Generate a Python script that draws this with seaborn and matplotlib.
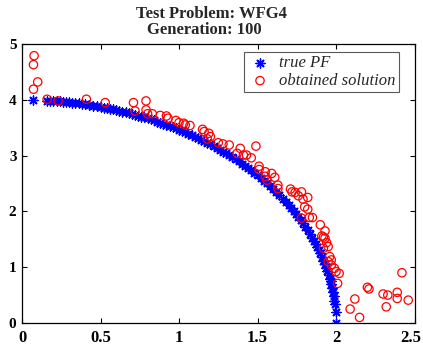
import matplotlib
matplotlib.use("Agg")
import matplotlib.pyplot as plt
import matplotlib.transforms as mtransforms
import seaborn as sns
import pandas as pd

# true Pareto front
pf_x = [0.07, 0.16, 0.18, 0.20, 0.22, 0.24, 0.26, 0.28, 0.30, 0.32, 0.34, 0.36,
        0.38, 0.40, 0.425, 0.45, 0.475, 0.50, 0.52, 0.54, 0.56, 0.58, 0.60,
        0.62, 0.64, 0.66, 0.68, 0.70, 0.72, 0.74, 0.76, 0.78, 0.80, 0.82, 0.84,
        0.86, 0.88, 0.90, 0.92, 0.94, 0.96, 0.98, 1.00, 1.02, 1.04, 1.06, 1.08,
        1.10, 1.12, 1.14, 1.16, 1.18, 1.20, 1.22, 1.24, 1.26, 1.28, 1.30, 1.32,
        1.34, 1.36, 1.38, 1.40, 1.42, 1.44, 1.46, 1.48, 1.50, 1.52, 1.54, 1.56,
        1.58, 1.60, 1.62, 1.64, 1.66, 1.68, 1.70, 1.715, 1.73, 1.745, 1.76,
        1.775, 1.79, 1.805, 1.82, 1.835, 1.85, 1.86, 1.87, 1.88, 1.89, 1.90,
        1.91, 1.92, 1.93, 1.938, 1.945, 1.953, 1.96, 1.965, 1.97, 1.975, 1.98,
        1.985, 1.99, 1.993, 2.00, 2.00]
pf_y = [3.998, 3.987, 3.984, 3.980, 3.976, 3.971, 3.966, 3.961, 3.955, 3.949,
        3.942, 3.935, 3.927, 3.919, 3.909, 3.897, 3.886, 3.873, 3.862, 3.851,
        3.840, 3.828, 3.816, 3.803, 3.790, 3.776, 3.762, 3.747, 3.732, 3.716,
        3.700, 3.683, 3.666, 3.648, 3.630, 3.611, 3.592, 3.572, 3.552, 3.531,
        3.509, 3.487, 3.464, 3.441, 3.417, 3.392, 3.367, 3.341, 3.314, 3.286,
        3.258, 3.230, 3.200, 3.170, 3.138, 3.106, 3.073, 3.040, 3.005, 2.969,
        2.933, 2.895, 2.857, 2.817, 2.776, 2.734, 2.690, 2.646, 2.600, 2.552,
        2.503, 2.452, 2.400, 2.346, 2.289, 2.231, 2.170, 2.107, 2.058, 2.007,
        1.954, 1.900, 1.843, 1.784, 1.723, 1.658, 1.591, 1.520, 1.470, 1.419,
        1.365, 1.308, 1.249, 1.186, 1.120, 1.049, 0.988, 0.932, 0.862, 0.796,
        0.745, 0.690, 0.630, 0.564, 0.489, 0.400, 0.334, 0.20, 0.00]

# obtained solution
sol_x = [0.077, 0.073, 0.10, 0.073, 0.16, 0.23, 0.41, 0.53, 0.71, 0.79, 0.72,
         0.79, 0.80, 0.83, 0.88, 0.92, 0.93, 0.98, 1.00, 1.03, 1.04, 1.07, 1.15,
         1.16, 1.19, 1.20, 1.18, 1.25, 1.28, 1.32, 1.39, 1.49, 1.37, 1.41, 1.43,
         1.46, 1.51, 1.51, 1.55, 1.59, 1.55, 1.61, 1.56, 1.63, 1.63, 1.71, 1.72,
         1.78, 1.74, 1.76, 1.79, 1.82, 1.80, 1.82, 1.85, 1.83, 1.78, 1.90, 1.93,
         1.91, 1.92, 1.93, 1.94, 1.95, 1.92, 1.96, 1.97, 1.95, 1.97, 1.99, 2.00,
         2.02, 2.01, 2.12, 2.09, 2.15, 2.20, 2.21, 2.30, 2.33, 2.32, 2.39, 2.39,
         2.46, 2.42]
sol_y = [4.79, 4.63, 4.32, 4.19, 4.01, 3.98, 4.01, 3.95, 3.95, 3.98, 3.80,
         3.82, 3.75, 3.75, 3.72, 3.71, 3.67, 3.63, 3.59, 3.58, 3.55, 3.54, 3.47,
         3.43, 3.40, 3.34, 3.30, 3.23, 3.21, 3.19, 3.13, 3.17, 3.04, 3.01, 3.01,
         2.96, 2.81, 2.75, 2.71, 2.68, 2.63, 2.61, 2.56, 2.47, 2.41, 2.40, 2.35,
         2.35, 2.34, 2.28, 2.22, 2.25, 2.08, 2.04, 1.89, 1.89, 1.88, 1.76, 1.65,
         1.56, 1.54, 1.52, 1.44, 1.37, 1.34, 1.19, 1.13, 1.10, 1.04, 0.98, 0.92,
         0.89, 0.71, 0.43, 0.25, 0.10, 0.64, 0.61, 0.52, 0.50, 0.29, 0.55, 0.44,
         0.41, 0.90]

x_ticks = [0, 0.5, 1, 1.5, 2, 2.5]
x_ticklabels = ["0", "0.5", "1", "1.5", "2", "2.5"]
y_ticks = [0, 1, 2, 3, 4, 5]
y_ticklabels = ["0", "1", "2", "3", "4", "5"]
title_lines = ["Test Problem: WFG4", "Generation: 100"]

sns.set_theme(style="ticks")
plt.rcParams["font.family"] = ["Liberation Serif", "DejaVu Serif"]

W, H = 423, 350
fig = plt.figure(figsize=(W / 100, H / 100), dpi=100)
ax = fig.add_axes([22 / W, 27 / H, 392.5 / W, 279 / H])

pf = pd.DataFrame({"x": pf_x, "y": pf_y})
sol = pd.DataFrame({"x": sol_x, "y": sol_y})

sns.scatterplot(data=pf, x="x", y="y", ax=ax, marker=(8, 2, 0), s=42,
                color="blue", linewidth=1.0, label="true PF")
pts = ax.collections[-1]
pts.set_edgecolor((0, 0, 1))
pts.set_facecolor((0, 0, 1))
pts.set_linewidth(1.0)

sns.scatterplot(data=sol, x="x", y="y", ax=ax, marker="o", s=36,
                facecolors="none", edgecolors="red", linewidth=0.9,
                label="obtained solution")
pts2 = ax.collections[-1]
pts2.set_facecolor("none")
pts2.set_edgecolor((1, 0, 0))
pts2.set_linewidth(0.9)

ax.set_xlim(0, 2.5)
ax.set_ylim(0, 5)
ax.set_xticks(x_ticks)
ax.set_xticklabels(x_ticklabels)
ax.set_yticks(y_ticks)
ax.set_yticklabels(y_ticklabels)
ax.set_xlabel("")
ax.set_ylabel("")
ax.tick_params(axis="both", direction="in", length=3.5, width=0.8,
               top=True, right=True, colors="black")
ax.tick_params(axis="x", pad=5)
ax.tick_params(axis="y", pad=4)
for sp in ax.spines.values():
    sp.set_visible(True)
    sp.set_color("black")
    sp.set_linewidth(0.9)

xlabs = ax.get_xticklabels()
for lab in xlabs:
    lab.set_fontweight("bold")
    lab.set_fontsize(12)
for lab in ax.get_yticklabels():
    lab.set_fontweight("bold")
    lab.set_fontsize(11)
# keep the last x label inside the figure
last_tick = ax.xaxis.get_major_ticks()[-1]
last_tick.label1.set_transform(last_tick.label1.get_transform() +
                               mtransforms.ScaledTranslation(-4 / 100, 0, fig.dpi_scale_trans))

fig.text(211 / W, 1 - 18.5 / H, title_lines[0], ha="center", va="baseline",
         fontsize=12, fontweight="bold")
fig.text(204 / W, 1 - 33.5 / H, title_lines[1], ha="center", va="baseline",
         fontsize=12, fontweight="bold")

leg = ax.legend(loc="upper right",
                bbox_to_anchor=((399 - 22) / 392.5, (323 - 52) / 279),
                borderaxespad=0.0,
                prop={"style": "italic", "size": 12}, frameon=True,
                fancybox=False, edgecolor="0.35", framealpha=1,
                handletextpad=0.4, borderpad=0.2, labelspacing=0.1,
                handlelength=1.5, markerscale=1.0)
leg.get_frame().set_linewidth(0.8)

fig.savefig("out.png", dpi=100)
